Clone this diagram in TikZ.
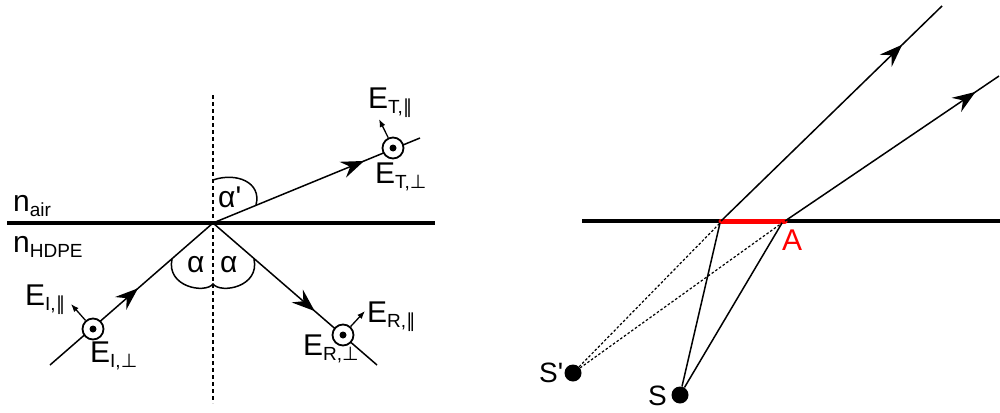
\documentclass[tikz,border=0pt]{standalone}
\usepackage{fontspec}
\setmainfont{Liberation Sans}
\newfontfamily\dejavu{DejaVu Sans}
\usetikzlibrary{arrows.meta,decorations.markings}
\newcommand\sbs[1]{\raisebox{-5pt}{\fontsize{19}{19}\selectfont #1}}
\newcommand\parsym{{\dejavu ∥}}
\newcommand\perpsym{{\dejavu ⊥}}
\begin{document}
\begin{tikzpicture}[x=1pt,y=-1pt,
  ray/.style={line width=1.5pt},
  rayarrow/.style={postaction={decorate},decoration={markings,
     mark=at position #1 with {\arrow[line width=1.5pt]{Stealth[length=23pt,width=17pt,inset=8pt]}}}},
  pol/.style={circle,draw,line width=1.8pt,fill=white,minimum size=21pt,inner sep=0pt},
  dotc/.style={circle,fill=black,minimum size=7pt,inner sep=0pt},
  src/.style={circle,fill=black,minimum size=17pt,inner sep=0pt},
  small/.style={-{Latex[length=8pt,width=6pt]},line width=1.3pt},
  lbl/.style={anchor=base west,inner sep=0pt,font=\fontsize{30}{30}\selectfont},
  surf/.style={line width=4.5pt},
  normal/.style={dash pattern=on 4pt off 3pt,line width=1.2pt}]
\useasboundingbox (0,0) rectangle (1000,412);
% ---------------- left panel ----------------
\coordinate (O) at (213,223);
\coordinate (i0) at (50,365);
\coordinate (t1) at (420,138);
\coordinate (r1) at (377,365);
\draw[normal] (213,95) coordinate (nt) -- (213,403) coordinate (nb);
\draw[surf] (7,223) coordinate (sl) -- (435,223) coordinate (sr);
\draw[ray,rayarrow=0.54] (i0) -- (O);
\draw[ray,rayarrow=0.73] (O) -- (t1);
\draw[ray,rayarrow=0.62] (O) -- (r1);
% angle marks
\draw[line width=1.5pt] (213,180) .. controls (236,172) and (262,182) .. (256,205);
\draw[line width=1.5pt] (172,259) .. controls (166,287) and (205,294) .. (213,284)
   .. controls (221,294) and (260,287) .. (254,259);
\node[lbl] (ap) at (218,207) {α\textquotesingle};
\node[lbl] (a1) at (187,272) {α};
\node[lbl] (a2) at (220,272) {α};
% polarisation markers
\node[pol] (ci) at (93,329) {};
\node[dotc] at (ci) {};
\node[pol] (ct) at (393,148) {};
\node[dotc] at (ct) {};
\node[pol] (cr) at (343,335) {};
\node[dotc] at (cr) {};
\coordinate (ei) at (71,304);
\coordinate (et) at (379,119);
\coordinate (er) at (365,311);
\draw[small] (ci.131) -- (ei);
\draw[small] (ct.115) -- (et);
\draw[small] (cr.48) -- (er);
% labels
\node[lbl] (nair) at (13,211) {n\sbs{air}};
\node[lbl] (nhdpe) at (13,252) {n\sbs{HDPE}};
\node[lbl] (lti) at (25,305) {E\sbs{I,\parsym}};
\node[lbl] (lip) at (90,362) {E\sbs{I,\perpsym}};
\node[lbl] (ltp) at (368,108) {E\sbs{T,\parsym}};
\node[lbl] (ltt) at (375,183) {E\sbs{T,\perpsym}};
\node[lbl] (lrp) at (367,322) {E\sbs{R,\parsym}};
\node[lbl] (lrt) at (303,355) {E\sbs{R,\perpsym}};
% ---------------- right panel ----------------
\coordinate (P1) at (721,221);
\coordinate (P2) at (785,221);
\coordinate (q1) at (942,6);
\coordinate (q2) at (999,76);
\draw[line width=4pt] (582,221) coordinate (rl) -- (1000,221) coordinate (rr);
\draw[red,line width=5pt,line cap=round] (P1) -- (P2);
\draw[ray,rayarrow=0.82] (P1) -- (q1);
\draw[ray,rayarrow=0.89] (P2) -- (q2);
\node[src] (S) at (680,395) {};
\node[src] (Sp) at (573,373) {};
\draw[ray] (S) -- (720,223) coordinate (h1);
\draw[ray] (S) -- (782,223) coordinate (h2);
\draw[line width=1.2pt,dash pattern=on 2.5pt off 2pt] (Sp) -- (h1);
\draw[line width=1.2pt,dash pattern=on 2.5pt off 2pt] (Sp) -- (h2);
\node[lbl,font=\fontsize{28}{28}\selectfont] (Sl) at (648,405) {S};
\node[lbl,font=\fontsize{28}{28}\selectfont] (Spl) at (539,382) {S\textquotesingle};
\node[lbl,red,font=\fontsize{30}{30}\selectfont] (Al) at (782,250) {A};
\end{tikzpicture}
\end{document}
